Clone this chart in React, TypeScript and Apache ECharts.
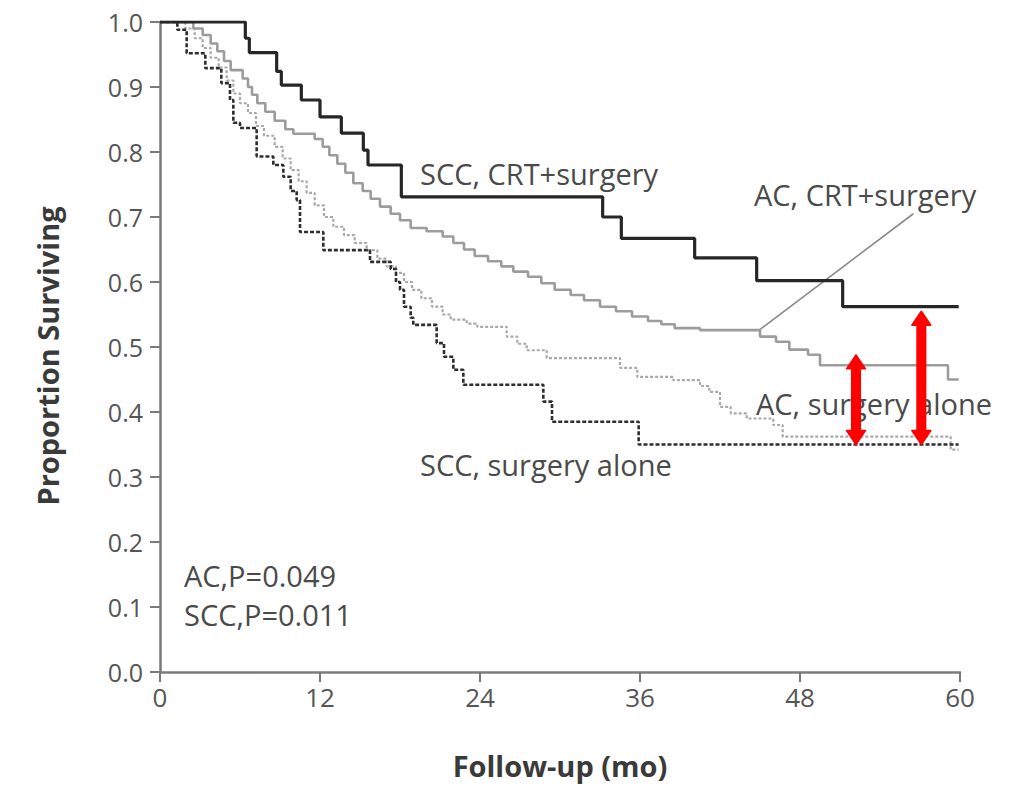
import React, { useEffect, useRef } from "react";
import * as echarts from "echarts";

// Kaplan-Meier style step data: [month, proportion surviving]
const sccCrtSurgery: [number, number][] = [
  [0, 1.0], [6.4, 0.975], [6.7, 0.953], [8.75, 0.924], [9.1, 0.903], [10.6, 0.88],
  [12.0, 0.854], [13.6, 0.829], [15.25, 0.803], [15.6, 0.78], [18.1, 0.731],
  [33.2, 0.7], [34.6, 0.667], [40.1, 0.637], [44.75, 0.602], [51.2, 0.562], [59.9, 0.562],
];

const acCrtSurgery: [number, number][] = [
  [0, 1.0], [2.5, 0.99], [3.2, 0.98], [3.8, 0.967], [4.3, 0.955], [4.8, 0.94], [5.3, 0.926],
  [6.2, 0.913], [6.6, 0.9], [6.9, 0.888], [7.3, 0.875], [7.9, 0.862], [8.6, 0.848],
  [9.4, 0.835], [10.0, 0.828], [11.6, 0.82], [12.2, 0.808], [12.7, 0.795], [13.3, 0.782],
  [13.9, 0.768], [14.5, 0.752], [15.2, 0.74], [15.8, 0.728], [16.5, 0.716], [17.3, 0.705],
  [18.0, 0.695], [18.8, 0.683], [20.0, 0.678], [21.2, 0.67], [22.0, 0.66], [22.8, 0.65],
  [23.6, 0.64], [24.6, 0.632], [25.6, 0.624], [26.5, 0.616], [27.6, 0.608], [28.6, 0.598],
  [29.6, 0.588], [30.8, 0.58], [31.8, 0.572], [33.0, 0.562], [34.2, 0.555], [35.4, 0.547],
  [36.6, 0.54], [37.6, 0.535], [38.6, 0.529], [40.5, 0.526], [45.0, 0.516], [46.2, 0.508],
  [47.2, 0.496], [48.6, 0.488], [49.5, 0.472], [59.1, 0.45], [59.9, 0.45],
];

const acSurgeryAlone: [number, number][] = [
  [0, 1.0], [1.9, 0.99], [2.6, 0.975], [3.2, 0.96], [3.8, 0.945], [4.4, 0.93], [5.0, 0.91],
  [5.5, 0.89], [6.0, 0.875], [6.6, 0.86], [7.2, 0.84], [7.8, 0.825], [8.6, 0.808],
  [9.2, 0.79], [9.8, 0.772], [10.4, 0.755], [11.0, 0.737], [11.6, 0.718], [12.3, 0.7],
  [13.0, 0.685], [13.8, 0.672], [14.6, 0.66], [15.5, 0.649], [16.3, 0.636], [17.0, 0.624],
  [17.7, 0.614], [18.3, 0.6], [18.9, 0.588], [19.6, 0.575], [20.4, 0.562], [21.2, 0.55],
  [21.8, 0.542], [23.0, 0.536], [23.8, 0.531], [26.0, 0.516], [26.8, 0.505], [27.5, 0.495],
  [29.0, 0.483], [34.5, 0.468], [35.8, 0.454], [38.5, 0.449], [40.5, 0.44], [41.2, 0.431],
  [42.0, 0.408], [42.8, 0.398], [44.0, 0.39], [46.0, 0.38], [46.7, 0.362], [59.3, 0.342],
  [59.9, 0.342],
];

const sccSurgeryAlone: [number, number][] = [
  [0, 1.0], [1.3, 0.988], [2.0, 0.952], [3.4, 0.929], [4.6, 0.906], [5.25, 0.88],
  [5.5, 0.845], [6.0, 0.837], [7.25, 0.793], [8.5, 0.78], [9.25, 0.762], [9.8, 0.74],
  [10.25, 0.726], [10.5, 0.677], [12.25, 0.649], [15.75, 0.631], [17.3, 0.62],
  [17.7, 0.6], [18.0, 0.588], [18.3, 0.562], [18.8, 0.545], [19.0, 0.534], [20.75, 0.506],
  [21.3, 0.485], [22.0, 0.465], [22.75, 0.442], [28.75, 0.416], [29.4, 0.385],
  [35.9, 0.35], [59.9, 0.35],
];

// leader line from "AC, CRT+surgery" label to its curve
const leaderLine: [number, number][] = [[56.5, 0.705], [45.0, 0.527]];

// red double arrows: [month, bottom, top]
const gapArrows: [number, number, number][] = [
  [52.2, 0.35, 0.488],
  [57.1, 0.35, 0.555],
];

const xTicks = [0, 12, 24, 36, 48, 60];
const yTickLabels = ["0.0", "0.1", "0.2", "0.3", "0.4", "0.5", "0.6", "0.7", "0.8", "0.9", "1.0"];

const FONT = "'Open Sans', 'Noto Sans', sans-serif";
const TEXT = "#4a4a4a";

export default function App() {
  const ref = useRef<HTMLDivElement>(null);
  useEffect(() => {
    if (!ref.current) return;
    const chart = echarts.init(ref.current, null, { renderer: "svg" });
    const annot = (text: string, left: number, top: number, size = 29) => ({
      type: "text",
      left,
      top,
      style: { text, fill: TEXT, font: `${size}px ${FONT}` },
    });
    chart.setOption({
      animation: false,
      backgroundColor: "#ffffff",
      grid: { left: 160, right: 49, top: 22, bottom: 115 },
      xAxis: {
        type: "value",
        min: 0,
        max: 60,
        interval: 12,
        name: "Follow-up (mo)",
        nameLocation: "middle",
        nameGap: 79,
        nameTextStyle: { fontFamily: FONT, fontSize: 29, fontWeight: "bold", color: "#3a3a3a" },
        splitLine: { show: false },
        axisLine: { lineStyle: { color: "#7a7a7a", width: 2.5 } },
        axisTick: { length: 10, lineStyle: { color: "#7a7a7a", width: 2 } },
        axisLabel: {
          margin: 12,
          fontFamily: FONT,
          fontSize: 26,
          color: "#555",
          formatter: (v: number) => (xTicks.includes(v) ? String(v) : ""),
        },
      },
      yAxis: {
        type: "value",
        min: 0,
        max: 1,
        interval: 0.1,
        splitLine: { show: false },
        axisLine: { show: true, lineStyle: { color: "#7a7a7a", width: 2.5 } },
        axisTick: { show: true, length: 10, lineStyle: { color: "#7a7a7a", width: 2 } },
        axisLabel: {
          margin: 17,
          fontFamily: FONT,
          fontSize: 25,
          color: "#555",
          formatter: (v: number) => yTickLabels[Math.round(v * 10)] ?? "",
        },
      },
      series: [
        {
          name: "AC, surgery alone",
          type: "line",
          step: "end",
          data: acSurgeryAlone,
          showSymbol: false,
          lineStyle: { color: "#a9a9a9", width: 2.2, type: [3, 2] },
          z: 2,
        },
        {
          name: "SCC, surgery alone",
          type: "line",
          step: "end",
          data: sccSurgeryAlone,
          showSymbol: false,
          lineStyle: { color: "#2e2e2e", width: 2.6, type: [4, 2] },
          z: 3,
        },
        {
          name: "AC, CRT+surgery",
          type: "line",
          step: "end",
          data: acCrtSurgery,
          showSymbol: false,
          lineStyle: { color: "#9c9c9c", width: 2.6 },
          z: 3,
        },
        {
          name: "SCC, CRT+surgery",
          type: "line",
          step: "end",
          data: sccCrtSurgery,
          showSymbol: false,
          lineStyle: { color: "#262626", width: 3.2 },
          z: 4,
        },
        {
          name: "leader",
          type: "line",
          data: leaderLine,
          showSymbol: false,
          lineStyle: { color: "#8a8a8a", width: 1.6 },
          z: 2,
        },
        {
          name: "arrows",
          type: "custom",
          data: gapArrows,
          z: 10,
          renderItem: (params: any, api: any) => {
            const x = api.value(0);
            const pb = api.coord([x, api.value(1)]);
            const pt = api.coord([x, api.value(2)]);
            const cx = pb[0];
            const yTop = pt[1];
            const yBot = pb[1];
            const sw = 4.3; // half shaft width
            const hw = 9.5; // half head width
            const hl = 14; // head length
            return {
              type: "polygon",
              shape: {
                points: [
                  [cx, yTop],
                  [cx + hw, yTop + hl],
                  [cx + sw, yTop + hl],
                  [cx + sw, yBot - hl],
                  [cx + hw, yBot - hl],
                  [cx, yBot],
                  [cx - hw, yBot - hl],
                  [cx - sw, yBot - hl],
                  [cx - sw, yTop + hl],
                  [cx - hw, yTop + hl],
                ],
              },
              style: { fill: "#ff0000", stroke: "#ff0000", lineWidth: 1.5, lineJoin: "round" },
            };
          },
        },
      ],
      graphic: [
        {
          type: "text",
          x: 47,
          y: 356,
          rotation: Math.PI / 2,
          style: {
            text: "Proportion Surviving",
            fill: "#3a3a3a",
            font: `bold 29px ${FONT}`,
            align: "center",
            verticalAlign: "middle",
          },
        },
        annot("SCC, CRT+surgery", 420, 159),
        annot("AC, CRT+surgery", 754, 180),
        annot("AC, surgery alone", 756, 389),
        annot("SCC, surgery alone", 420, 450),
        annot("AC,P=0.049", 184, 561),
        annot("SCC,P=0.011", 184, 600),
      ],
    });
    return () => chart.dispose();
  }, []);
  return (
    <div
      ref={ref}
      style={{ position: "fixed", left: 0, top: 0, width: 1009, height: 787, background: "#fff" }}
    />
  );
}
